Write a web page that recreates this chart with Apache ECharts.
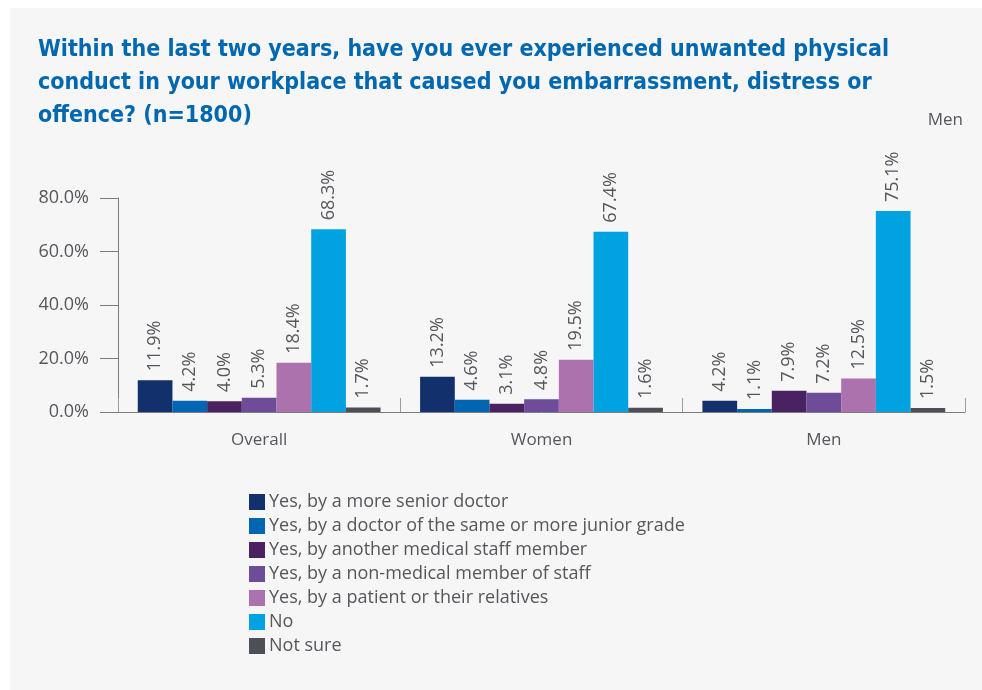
<!DOCTYPE html>
<html>
<head>
<meta charset="utf-8">
<script src="https://cdn.jsdelivr.net/npm/echarts@6/dist/echarts.min.js"></script>
<style>
  html, body { margin: 0; padding: 0; background: #ffffff; }
  #chart { position: absolute; left: 10px; top: 8px; width: 972px; height: 682px; background: #f6f6f6; }
</style>
</head>
<body>
<div id="chart"></div>
<script>
// data
const categories = ['Overall', 'Women', 'Men'];
const seriesNames = [
  'Yes, by a more senior doctor',
  'Yes, by a doctor of the same or more junior grade',
  'Yes, by another medical staff member',
  'Yes, by a non-medical member of staff',
  'Yes, by a patient or their relatives',
  'No',
  'Not sure'
];
const seniorDoctor = [11.9, 13.2, 4.2];
const juniorDoctor = [4.2, 4.6, 1.1];
const otherMedical = [4.0, 3.1, 7.9];
const nonMedical = [5.3, 4.8, 7.2];
const patient = [18.4, 19.5, 12.5];
const no = [68.3, 67.4, 75.1];
const notSure = [1.7, 1.6, 1.5];
const yTicks = [0, 20, 40, 60, 80];

const colors = ['#12306b', '#0066b3', '#4a2262', '#6d4c9a', '#ab72ae', '#00a3e0', '#4d4f57'];
const allValues = [seniorDoctor, juniorDoctor, otherMedical, nonMedical, patient, no, notSure];
const textGray = '#55575d';
const font = 'Open Sans';

const chart = echarts.init(document.getElementById('chart'));
chart.setOption({
  backgroundColor: '#f6f6f6',
  color: colors,
  textStyle: { fontFamily: font },
  title: [{
    text: 'Within the last two years, have you ever experienced unwanted physical\nconduct in your workplace that caused you embarrassment, distress or\noffence? (n=1800)',
    left: 28,
    top: 26,
    padding: 0,
    textStyle: {
      fontFamily: "'DejaVu Sans Condensed', 'Liberation Sans'",
      fontWeight: 'bold',
      fontSize: 23,
      lineHeight: 33,
      color: '#0067b1'
    }
  }, {
    text: 'Men',
    right: 19,
    top: 104,
    padding: 0,
    textStyle: { fontFamily: font, fontWeight: 'normal', fontSize: 17, color: textGray }
  }],
  legend: {
    orient: 'vertical',
    left: 239,
    top: 485,
    itemWidth: 16,
    itemHeight: 16,
    itemGap: 6,
    icon: 'rect',
    padding: 0,
    textStyle: { fontSize: 18, color: textGray, padding: [0, 0, 0, -1] },
    data: seriesNames
  },
  grid: { left: 108, right: 17, top: 190, bottom: 278 },
  xAxis: {
    type: 'category',
    data: categories,
    axisLine: { lineStyle: { color: '#7a7c80', width: 1 } },
    axisTick: { show: true, inside: true, length: 14, lineStyle: { color: '#9a9ca0' } },
    axisLabel: { fontSize: 17, color: textGray, margin: 20 }
  },
  yAxis: {
    type: 'value',
    min: yTicks[0],
    max: yTicks[yTicks.length - 1],
    interval: 20,
    splitLine: { show: false },
    axisLine: { show: true, lineStyle: { color: '#7a7c80' } },
    axisTick: { show: true, length: 18, lineStyle: { color: '#7a7c80' } },
    axisLabel: { fontSize: 18, color: textGray, margin: 29, formatter: v => v.toFixed(1) + '%' }
  },
  series: seriesNames.map((name, i) => ({
    name: name,
    type: 'bar',
    data: allValues[i],
    barGap: '0%',
    barCategoryGap: '14%',
    label: {
      show: true,
      position: 'top',
      rotate: 90,
      align: 'left',
      verticalAlign: 'middle',
      distance: 9,
      fontSize: 18,
      color: textGray,
      formatter: p => p.value.toFixed(1) + '%'
    }
  }))
});
</script>
</body>
</html>
